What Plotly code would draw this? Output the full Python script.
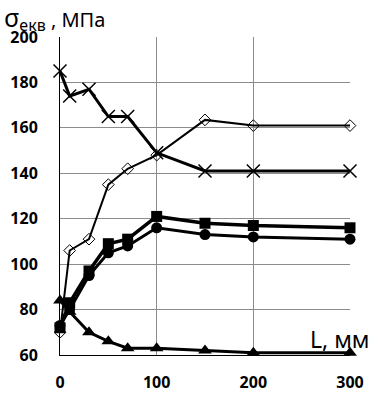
import plotly.graph_objects as go

L = [0, 10, 30, 50, 70, 100, 150, 200, 300]
s_cross = [185, 174, 177, 165, 165, 149, 141, 141, 141]
s_diamond = [70, 106, 111, 135, 142, 148, 163.5, 161, 161]
s_square = [72, 83, 97, 109, 111, 121, 118, 117, 116]
s_circle = [73, 80, 95, 105, 108, 116, 113, 112, 111]
s_triangle = [84, 79, 70, 66, 63, 63, 62, 61, 61]
x_ticks = [0, 100, 200, 300]
y_ticks = [60, 80, 100, 120, 140, 160, 180, 200]

fig = go.Figure()
fig.add_trace(go.Scatter(x=L, y=s_cross, mode="lines+markers",
                         line=dict(color="black", width=3),
                         marker=dict(symbol="x-thin", size=13, line=dict(width=1.5, color="black"))))
fig.add_trace(go.Scatter(x=L, y=s_diamond, mode="lines+markers",
                         line=dict(color="black", width=2),
                         marker=dict(symbol="diamond-open", size=9, color="black", line=dict(width=1))))
fig.add_trace(go.Scatter(x=L, y=s_square, mode="lines+markers",
                         line=dict(color="black", width=3.5),
                         marker=dict(symbol="square", size=11, color="black")))
fig.add_trace(go.Scatter(x=L, y=s_circle, mode="lines+markers",
                         line=dict(color="black", width=3),
                         marker=dict(symbol="circle", size=11, color="black")))
fig.add_trace(go.Scatter(x=L, y=s_triangle, mode="lines+markers",
                         line=dict(color="black", width=3),
                         marker=dict(symbol="triangle-up", size=12, color="black")))

fig.update_traces(cliponaxis=False)

fig.update_layout(
    width=370, height=395,
    margin=dict(l=60, r=20, t=37, b=40),
    paper_bgcolor="white", plot_bgcolor="white",
    showlegend=False,
    font=dict(family="Noto Sans", color="black"),
    xaxis=dict(range=[0, 300], tickvals=x_ticks, showgrid=True, gridcolor="#8c8c8c",
               gridwidth=1, zeroline=False, showline=True, linecolor="black", linewidth=1,
               automargin=False,
               tickfont=dict(size=16, family="Noto Sans", weight="bold"),
               ticklabelstandoff=13),
    yaxis=dict(range=[60, 200], tickvals=y_ticks, showgrid=True, gridcolor="#8c8c8c",
               gridwidth=1, zeroline=False, showline=True, linecolor="black", linewidth=1,
               automargin=False,
               tickfont=dict(size=16, family="Noto Sans", weight="bold"),
               ticklabelstandoff=18),
    annotations=[
        dict(text="<span style='font-size:25px'>σ</span><sub><span style='font-size:16px'>екв</span></sub> , МПа",
             xref="paper", yref="paper",
             x=-58/290, y=1 + 19/318, xanchor="left", yanchor="middle",
             showarrow=False, font=dict(size=20, family="Noto Sans")),
        dict(text="L, мм", x=300, y=60, xref="x", yref="y", xanchor="right", yanchor="bottom",
             xshift=22, yshift=-2, showarrow=False, font=dict(size=23, family="Noto Sans")),
    ],
)

fig.write_html("out.html")
